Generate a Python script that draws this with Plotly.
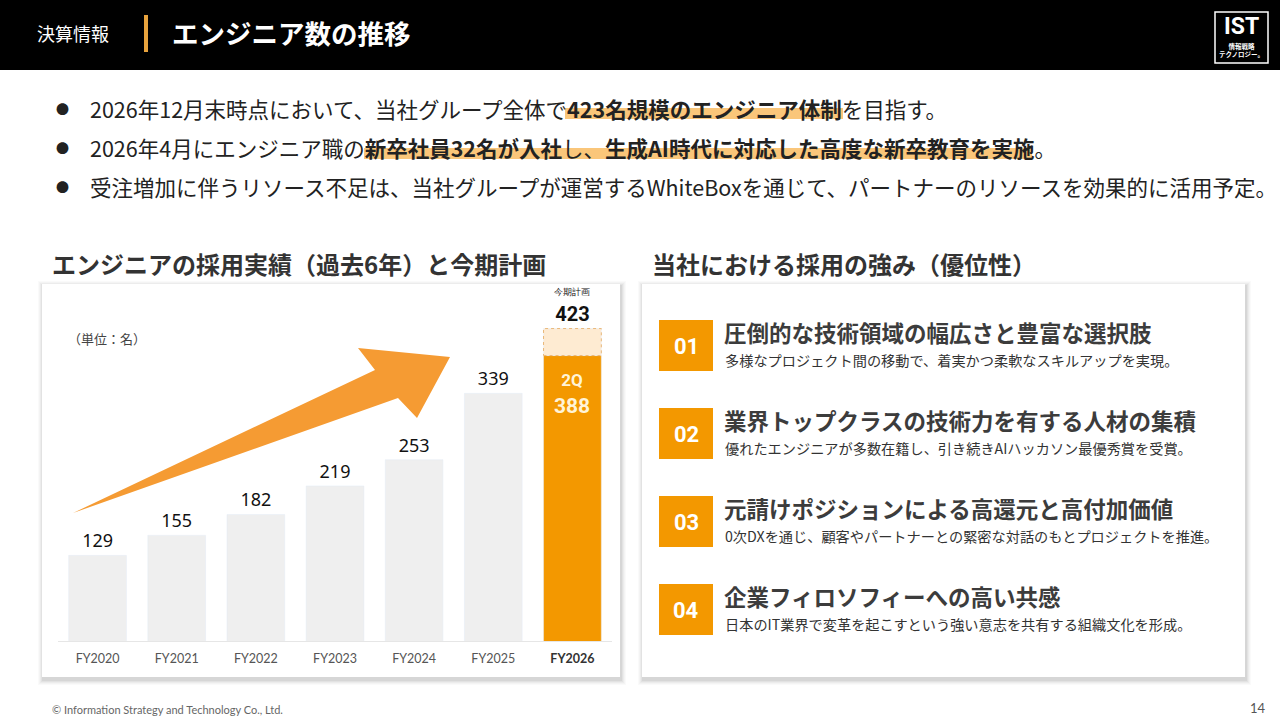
import plotly.graph_objects as go

# chart data
years = ["FY2020", "FY2021", "FY2022", "FY2023", "FY2024", "FY2025", "FY2026"]
engineers = [129, 155, 182, 219, 253, 339, 388]
plan_2026 = 423
current_label = "2Q"

bullets = [
    "2026年12月末時点において、当社グループ全体で<b>423名規模のエンジニア体制</b>を目指す。",
    "2026年4月にエンジニア職の<b>新卒社員32名が入社</b>し、<b>生成AI時代に対応した高度な新卒教育を実施</b>。",
    "受注増加に伴うリソース不足は、当社グループが運営するWhiteBoxを通じて、パートナーのリソースを効果的に活用予定。",
]

strength_nums = ["01", "02", "03", "04"]
strength_titles = [
    "圧倒的な技術領域の幅広さと豊富な選択肢",
    "業界トップクラスの技術力を有する人材の集積",
    "元請けポジションによる高還元と高付加価値",
    "企業フィロソフィーへの高い共感",
]
strength_descs = [
    "多様なプロジェクト間の移動で、着実かつ柔軟なスキルアップを実現。",
    "優れたエンジニアが多数在籍し、引き続きAIハッカソン最優秀賞を受賞。",
    "0次DXを通じ、顧客やパートナーとの緊密な対話のもとプロジェクトを推進。",
    "日本のIT業界で変革を起こすという強い意志を共有する組織文化を形成。",
]

W, H = 1280, 720
JP = "Noto Sans CJK JP"
ORANGE = "#F39800"


def px(x):
    return x / W


def py(y):
    return 1 - y / H


shapes = []
annos = []


def rect(x0, y0, x1, y1, fill, line=None, layer="below"):
    shapes.append(dict(type="rect", xref="paper", yref="paper",
                       x0=px(x0), x1=px(x1), y0=py(y1), y1=py(y0),
                       fillcolor=fill, line=line or dict(width=0), layer=layer))


def text(x, y, s, size, color="#222", bold=False, xanchor="left", family=JP):
    annos.append(dict(xref="paper", yref="paper", x=px(x), y=py(y),
                      text=f"<b>{s}</b>" if bold else s, showarrow=False,
                      xanchor=xanchor, yanchor="middle",
                      font=dict(size=size, color=color, family=family)))


# header
rect(0, 0, W, 70, "#000000")
rect(144, 15, 148, 52, "#E8A33D")
text(35, 33, "決算情報", 18, "white")
text(170, 33, "エンジニア数の推移", 26.5, "white", bold=True)
shapes.append(dict(type="rect", xref="paper", yref="paper",
                   x0=px(1215), x1=px(1268), y0=py(63), y1=py(12),
                   line=dict(color="white", width=1.5), fillcolor="black"))
text(1241, 27, "IST", 23, "white", bold=True, xanchor="center", family="Roboto")
text(1241, 50, "情報戦略<br>テクノロジー。", 6.5, "white", bold=True, xanchor="center")

# bullets with highlight marks
rect(565, 108, 843, 119, "#FAC67A")
rect(364, 148, 1032, 159, "#FAC67A")
for i, b in enumerate(bullets):
    yy = 108 + i * 39.5
    text(54, yy, "●", 13, "#222")
    text(88, yy, b, 21.5, "#222")

# section titles
text(50, 263, "エンジニアの採用実績（過去6年）と今期計画", 24, "#333", bold=True)
text(650, 263, "当社における採用の強み（優位性）", 24, "#333", bold=True)

# cards with soft shadow
for (x0, x1) in [(42, 620), (642, 1245)]:
    for k, a in [(5, 0.02), (4, 0.025), (3, 0.03), (2, 0.04), (1, 0.05)]:
        rect(x0 - k + 1, 284 - k + 2, x1 + k + 1, 677 + k + 3, f"rgba(0,0,0,{a})")
    rect(x0, 284, x1, 677, "white")

text(66, 338, "（単位：名）", 13, "#444")

# strengths
for i in range(4):
    yc = 346 + i * 88
    rect(659, yc - 26, 713, yc + 25, ORANGE)
    text(686, yc, strength_nums[i], 22, "white", bold=True, xanchor="center", family="Roboto")
    text(722, yc - 14, strength_titles[i], 22.5, "#3C3C3C", bold=True)
    text(723, yc + 14, strength_descs[i], 14.2, "#333")

# growth arrow
pts = [(73, 513), (375, 370), (358, 348), (450, 357), (417, 418), (398, 398)]
path = "M " + " L ".join(f"{px(x)},{py(y)}" for x, y in pts) + " Z"
shapes.append(dict(type="path", xref="paper", yref="paper", path=path,
                   fillcolor="#F59B33", line=dict(width=0), layer="above"))

# footer
text(50, 709, "© Information Strategy and Technology Co., Ltd.", 11, "#666", family="Lato")
text(1268, 708, "14", 13, "#555", xanchor="right", family="Lato")

fig = go.Figure()
fig.add_trace(go.Bar(
    x=years[:-1], y=engineers[:-1], marker_color="#EFEFEF",
    text=[str(v) for v in engineers[:-1]], textposition="outside",
    textfont=dict(size=18, color="#111", family="Noto Sans"), cliponaxis=False,
))
fig.add_trace(go.Bar(
    x=[years[-1]], y=[engineers[-1]], marker_color=ORANGE,
))
fig.add_trace(go.Bar(
    x=[years[-1]], y=[plan_2026 - engineers[-1]], base=[engineers[-1]],
    marker_color="#FEEBD2",
    text=[f"<span style='font-size:9px;font-weight:normal'>今期計画</span><br><b>{plan_2026}</b>"],
    textposition="outside", textfont=dict(size=20, color="#111", family="Roboto"),
    cliponaxis=False, constraintext="none",
))

# label inside the current-year bar
annos.append(dict(xref="x", yref="y", x=years[-1], y=engineers[-1],
                  text=f"<span style='font-size:17px'><b>{current_label}</b></span><br><b>{engineers[-1]}</b>",
                  showarrow=False, yanchor="top", yshift=-12,
                  font=dict(size=21, color="#FFF4D8", family="Roboto")))

shapes.append(dict(type="rect", xref="x", yref="y", x0=6 - 0.365, x1=6 + 0.365,
                   y0=engineers[-1], y1=plan_2026,
                   line=dict(color="#E9B777", width=1, dash="dot"), layer="above"))

ticktext = years[:-1] + [f"<b><span style='color:#333'>{years[-1]}</span></b>"]
fig.update_layout(
    width=W, height=H, margin=dict(l=0, r=0, t=0, b=0),
    paper_bgcolor="white", plot_bgcolor="rgba(0,0,0,0)",
    showlegend=False, barmode="overlay", bargap=0.27,
    shapes=shapes, annotations=annos,
    xaxis=dict(domain=[px(58), px(612)], tickmode="array", tickvals=years,
               ticktext=ticktext, tickfont=dict(size=12.5, color="#555", family="Lato"),
               showline=True, linecolor="#E6E6E6", linewidth=1, showgrid=False,
               ticks="", ticklabelstandoff=6, fixedrange=True),
    yaxis=dict(domain=[py(641), py(300)], range=[18, 460], visible=False,
               showgrid=False, fixedrange=True),
)

fig.write_html("out.html", config={"displayModeBar": False},
               post_script="document.body.style.margin='0px';")
